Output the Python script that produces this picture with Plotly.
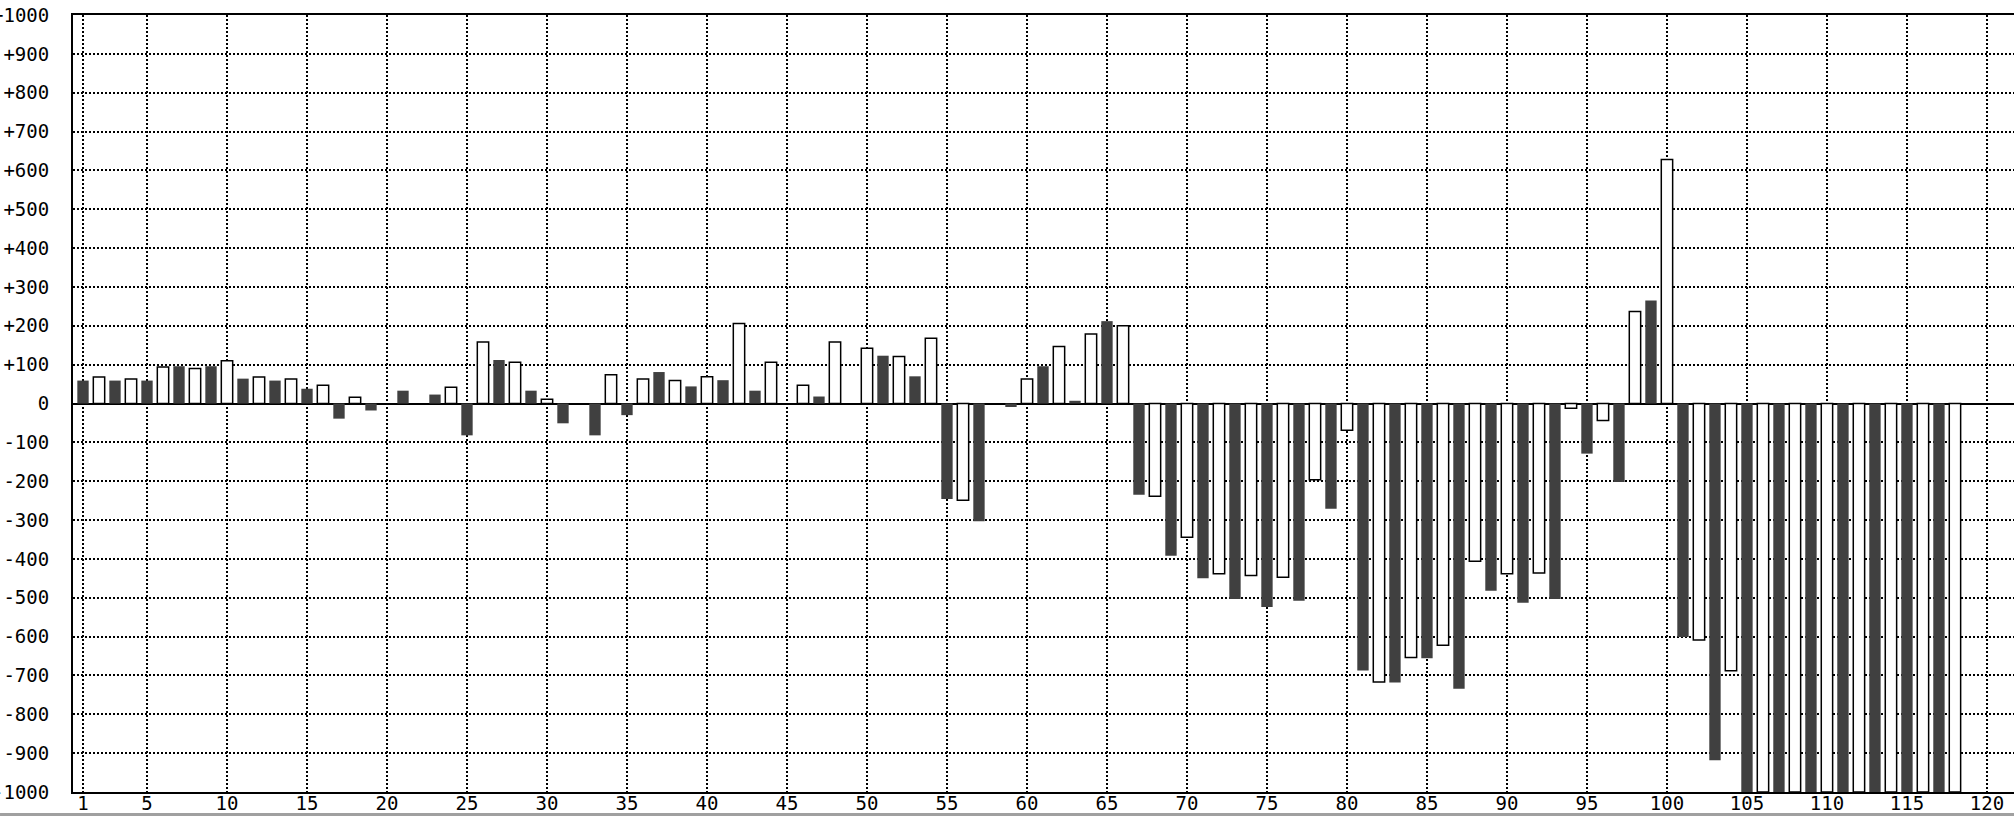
import plotly.graph_objects as go

# Data (x = 1..120, None = no bar)
positions = list(range(1, 121))
values = [
    59, 68, 59, 63, 59, 94, 96, 90, 96, 110,
    64, 68, 59, 63, 38, 47, -39, 16, -18, None,
    33, None, 23, 42, -82, 158, 112, 106, 33, 11,
    -51, None, -82, 74, -30, 63, 81, 59, 44, 69,
    60, 206, 33, 106, None, 47, 18, 158, None, 142,
    123, 121, 70, 168, -246, -249, -303, None, -9, 63,
    96, 147, 7, 179, 212, 200, -235, -239, -392, -344,
    -450, -438, -503, -443, -524, -447, -508, -196, -271, -69,
    -687, -717, -718, -654, -656, -622, -734, -406, -482, -438,
    -513, -436, -503, -12, -129, -44, -202, 237, 265, 628,
    -601, -609, -918, -688, -1000, -1000, -1000, -1000, -1000, -1000,
    -1000, -1000, -1000, -1000, -1000, -1000, -1000, -1000, None, None,
]
x_ticks = [1] + list(range(5, 121, 5))
y_ticks = list(range(-1000, 1001, 100))
y_tick_text = [("+%d" % v if v > 0 else str(v)) for v in y_ticks]

odd_x = [p for p, v in zip(positions, values) if p % 2 == 1 and v is not None]
odd_y = [v for p, v in zip(positions, values) if p % 2 == 1 and v is not None]
even_x = [p for p, v in zip(positions, values) if p % 2 == 0 and v is not None]
even_y = [v for p, v in zip(positions, values) if p % 2 == 0 and v is not None]

fig = go.Figure()
fig.add_trace(go.Bar(x=odd_x, y=odd_y, width=0.71,
                     marker=dict(color="#404040", line=dict(width=0)),
                     showlegend=False, hoverinfo="x+y"))
fig.add_trace(go.Bar(x=even_x, y=even_y, width=0.71,
                     marker=dict(color="#ffffff", line=dict(width=1.5, color="#000000")),
                     showlegend=False, hoverinfo="x+y"))

font = dict(family="DejaVu Sans Mono", size=19, color="#000000")

fig.update_layout(
    width=2014, height=816,
    margin=dict(l=73, r=0, t=15, b=24, pad=0, autoexpand=False),
    paper_bgcolor="#ffffff", plot_bgcolor="#ffffff",
    barmode="overlay",
    font=font,
    xaxis=dict(
        range=[0.375, 121.69], automargin=False,
        tickmode="array", tickvals=x_ticks, ticktext=[str(t) for t in x_ticks],
        showgrid=True, gridcolor="#000000", gridwidth=1.5, griddash="2px,2px",
        zeroline=False, showline=True, linecolor="#000000", linewidth=2,
        mirror=True, ticks="", ticklabelstandoff=-7, tickfont=font,
    ),
    yaxis=dict(
        range=[-1000, 1000], automargin=False,
        tickmode="array", tickvals=y_ticks, ticktext=y_tick_text,
        showgrid=True, gridcolor="#000000", gridwidth=1.5, griddash="2px,2px",
        zeroline=True, zerolinecolor="#000000", zerolinewidth=2,
        showline=True, linecolor="#000000", linewidth=2,
        mirror=False, ticks="outside", ticklen=18, tickcolor="#ffffff",
        tickfont=font,
    ),
    shapes=[dict(type="rect", xref="paper", yref="paper",
                 x0=-0.0376, x1=1.0, y0=-0.031, y1=-0.027,
                 fillcolor="#a0a0a0", line=dict(width=0), layer="above")],
)

fig.write_html("out.html", config={"displayModeBar": False},
               post_script="document.body.style.margin='0';document.body.style.overflow='hidden';")
